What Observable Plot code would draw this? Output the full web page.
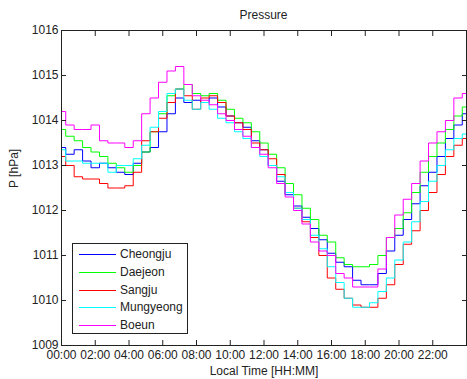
<!DOCTYPE html>
<html><head><meta charset="utf-8">
<script src="https://cdn.jsdelivr.net/npm/d3@7"></script>
<script src="https://cdn.jsdelivr.net/npm/@observablehq/plot@0.6"></script>
<style>
body{margin:0;background:#fff;font-family:"Liberation Sans",Arial,sans-serif;color:#222;}
#wrap{position:relative;width:467px;height:379px;overflow:hidden;}
#title{box-sizing:border-box;height:22px;padding-top:8px;padding-left:61px;padding-right:1px;line-height:14px;font-size:12px;text-align:center;}
#legend{position:absolute;left:72px;top:243px;width:116px;height:91px;box-sizing:border-box;border:1px solid #222;background:#fff;}
.row{position:absolute;left:0;width:100%;height:14px;line-height:14px;font-size:12px;}
.sw{position:absolute;left:6px;top:7px;width:37px;height:1px;}
.lab{position:absolute;left:47px;top:0;white-space:nowrap;}
</style></head>
<body><div id="wrap"><div id="title">Pressure</div><div id="chart"></div><div id="legend"></div></div>
<script>
const hours = [0,0.5,1,1.5,2,2.5,3,3.5,4,4.5,5,5.5,6,6.5,7,7.5,8,8.5,9,9.5,10,10.5,11,11.5,12,12.5,13,13.5,14,14.5,15,15.5,16,16.5,17,17.5,18,18.5,19,19.5,20,20.5,21,21.5,22,22.5,23,23.5,24];
const cheongju = [1013.4,1013.25,1013.35,1013.1,1012.95,1013.05,1012.95,1012.85,1012.8,1013.05,1013.3,1013.4,1013.75,1014.15,1014.5,1014.4,1014.45,1014.4,1014.5,1014.3,1014.1,1013.95,1013.85,1013.55,1013.35,1013.0,1012.65,1012.35,1012.1,1011.85,1011.6,1011.35,1011.05,1010.85,1010.75,1010.45,1010.35,1010.35,1010.6,1011.1,1011.45,1011.8,1012.15,1012.55,1012.85,1013.2,1013.6,1013.9,1014.15];
const daejeon = [1013.8,1013.65,1013.55,1013.4,1013.3,1013.2,1013.05,1012.95,1012.85,1013.0,1013.3,1013.75,1014.15,1014.55,1014.7,1014.8,1014.6,1014.55,1014.6,1014.45,1014.25,1014.05,1013.95,1013.75,1013.5,1013.25,1012.95,1012.6,1012.35,1012.05,1011.8,1011.45,1011.3,1010.95,1010.8,1010.75,1010.75,1010.8,1011.0,1011.4,1011.6,1011.95,1012.4,1012.85,1013.2,1013.5,1013.8,1014.1,1014.3];
const sangju = [1013.2,1013.0,1012.75,1012.7,1012.7,1012.6,1012.5,1012.5,1012.55,1012.85,1013.55,1013.75,1014.05,1014.4,1014.7,1014.55,1014.25,1014.5,1014.55,1014.4,1014.1,1013.95,1013.8,1013.5,1013.35,1013.15,1012.8,1012.4,1012.05,1011.75,1011.4,1011.0,1010.5,1010.25,1010.05,1009.9,1009.85,1009.85,1010.05,1010.35,1010.8,1011.25,1011.55,1012.0,1012.4,1012.8,1013.2,1013.45,1013.6];
const mungyeong = [1013.35,1013.1,1013.1,1013.05,1013.05,1013.05,1012.85,1013.0,1013.0,1013.15,1013.45,1013.85,1014.2,1014.6,1014.7,1014.45,1014.25,1014.4,1014.25,1014.05,1013.95,1013.75,1013.6,1013.4,1013.2,1013.0,1012.75,1012.4,1012.05,1011.8,1011.45,1011.15,1010.75,1010.4,1010.05,1009.85,1009.85,1009.95,1010.2,1010.5,1010.9,1011.3,1011.75,1012.2,1012.65,1013.0,1013.35,1013.6,1013.7];
const boeun = [1014.2,1013.9,1013.8,1013.8,1013.9,1013.55,1013.5,1013.5,1013.4,1013.55,1014.15,1014.5,1014.85,1015.1,1015.2,1014.8,1014.55,1014.45,1014.35,1014.15,1014.0,1013.8,1013.65,1013.4,1013.25,1012.95,1012.6,1012.3,1012.0,1011.7,1011.3,1011.1,1011.0,1010.6,1010.5,1010.3,1010.3,1010.3,1010.7,1011.4,1011.9,1012.25,1012.6,1013.1,1013.5,1013.75,1014.0,1014.5,1014.6];
const stations = ["Cheongju","Daejeon","Sangju","Mungyeong","Boeun"];
const colors = ["#0000ff","#00ff00","#ff0000","#00ffff","#ff00ff"];
const xTicks = [0,2,4,6,8,10,12,14,16,18,20,22];
const xTickLabels = ["00:00","02:00","04:00","06:00","08:00","10:00","12:00","14:00","16:00","18:00","20:00","22:00"];
const yTicks = [1009,1010,1011,1012,1013,1014,1015,1016];
const xLabel = "Local Time [HH:MM]";
const yLabel = "P [hPa]";

const series = [cheongju, daejeon, sangju, mungyeong, boeun];
const rows = [];
stations.forEach((s, i) => series[i].forEach((v, j) => rows.push({station: s, hour: hours[j], p: v})));

const chart = Plot.plot({
  width: 467, height: 357,
  marginTop: 8, marginRight: 1, marginBottom: 34, marginLeft: 61,
  style: {fontFamily: "'Liberation Sans', Arial, sans-serif", fontSize: "12px", color: "#222", background: "#fff", overflow: "visible"},
  x: {domain: [0, 24]},
  y: {domain: [1009, 1016]},
  color: {domain: stations, range: colors},
  marks: [
    Plot.line(rows, {x: "hour", y: "p", stroke: "station", z: "station", curve: "step", strokeWidth: 1}),
    Plot.frame({stroke: "#222", strokeWidth: 1}),
    Plot.axisX(xTicks, {anchor: "bottom", tickSize: -5, tickPadding: 10, tickFormat: d => xTickLabels[xTicks.indexOf(d)], label: null}),
    Plot.axisX(xTicks, {anchor: "top", tickSize: -5, tickFormat: () => "", label: null}),
    Plot.axisY(yTicks, {anchor: "left", tickSize: -5, tickPadding: 8, tickFormat: d => String(d), label: null}),
    Plot.axisY(yTicks, {anchor: "right", tickSize: -5, tickFormat: () => "", label: null}),
    Plot.text([xLabel], {frameAnchor: "bottom", dy: 26, lineAnchor: "middle", text: d => d, fill: "#222", fontSize: 12}),
    Plot.text([yLabel], {frameAnchor: "left", dx: -47, rotate: -90, lineAnchor: "middle", text: d => d, fill: "#222", fontSize: 12})
  ]
});
document.getElementById("chart").appendChild(chart);

const legend = document.getElementById("legend");
stations.forEach((s, i) => {
  const row = document.createElement("div");
  row.className = "row";
  row.style.top = Math.round(3 + i * 17.75) + "px";
  const sw = document.createElement("div");
  sw.className = "sw";
  sw.style.background = colors[i];
  const lab = document.createElement("div");
  lab.className = "lab";
  lab.textContent = s;
  row.appendChild(sw); row.appendChild(lab);
  legend.appendChild(row);
});
</script></body></html>
